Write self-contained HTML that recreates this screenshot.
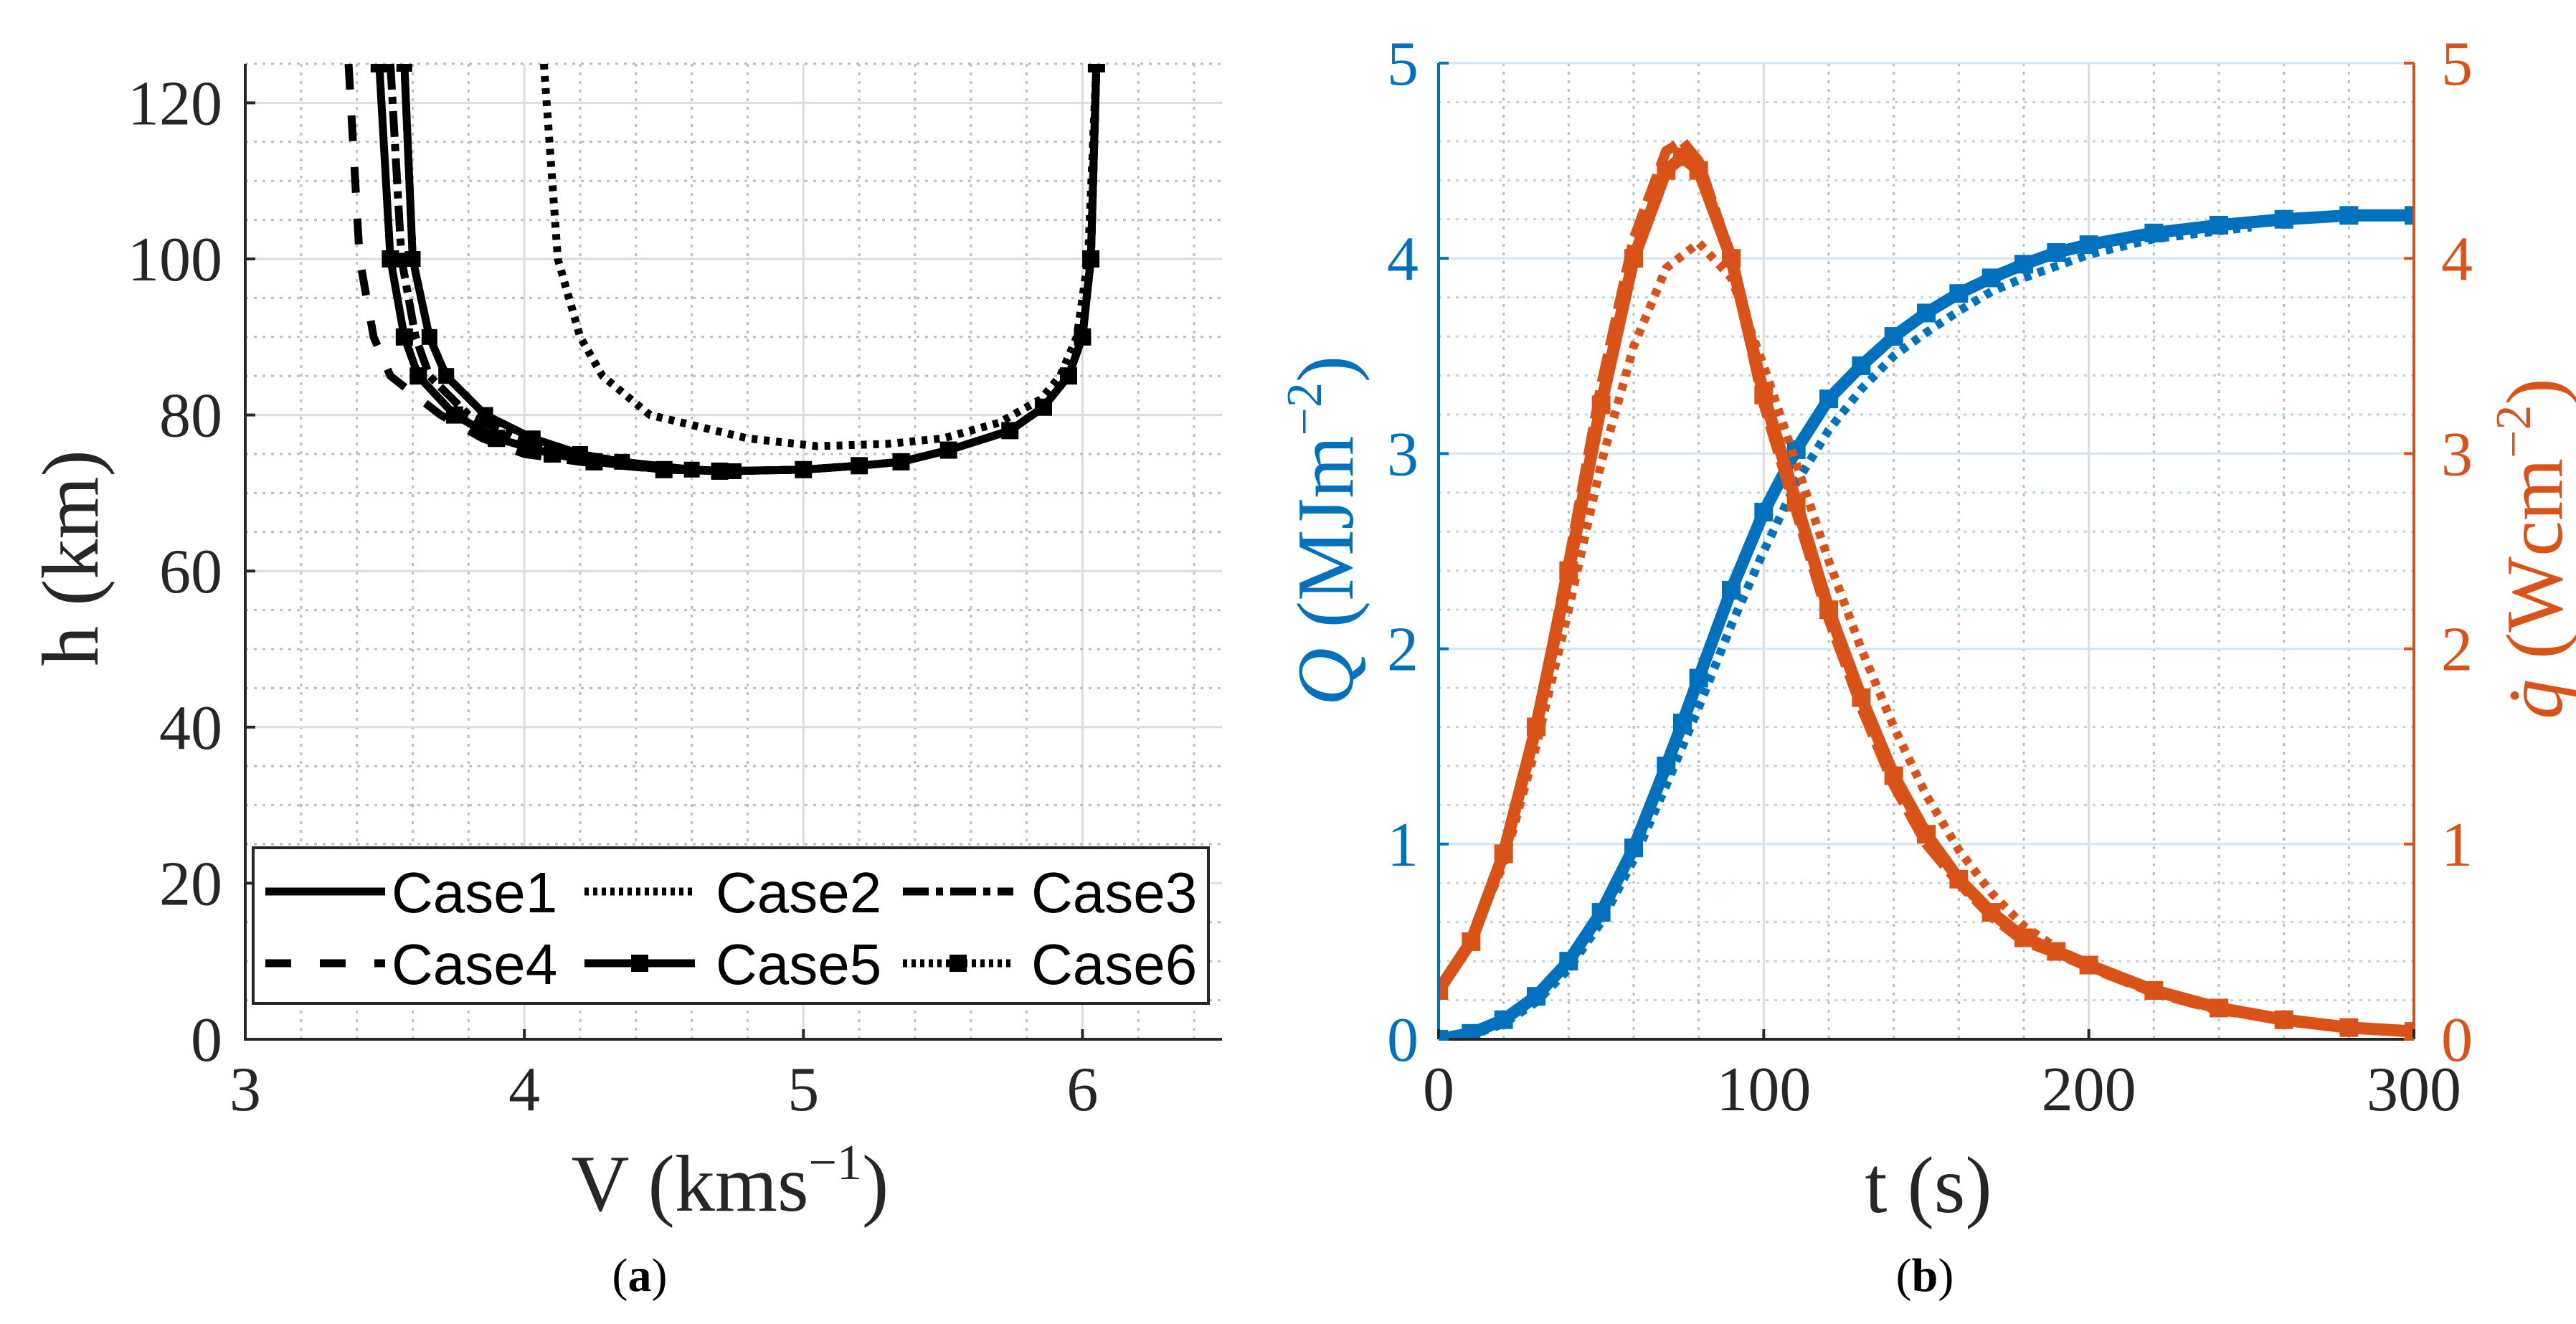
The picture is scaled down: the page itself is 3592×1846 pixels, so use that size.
<!DOCTYPE html>
<html><head><meta charset="utf-8"><style>
html,body{margin:0;padding:0;background:#fff}
svg{display:block}
.tk{font-family:"Liberation Serif",serif;font-size:88px}
.lab{font-family:"Liberation Serif",serif;font-size:112px}
.leg{font-family:"Liberation Sans",sans-serif;font-size:80px}
</style></head><body>
<svg id="fig" width="3592" height="1846" viewBox="0 0 3592 1846" xmlns="http://www.w3.org/2000/svg">
<defs>
<clipPath id="clipA"><rect x="342" y="89" width="1362" height="1360"/></clipPath>
<clipPath id="clipB"><rect x="2006" y="88" width="1360" height="1361"/></clipPath>
</defs>
<g id="gridA"></g>
<g id="gridB"></g>
<g id="seriesA" clip-path="url(#clipA)"></g>
<g id="seriesB" clip-path="url(#clipB)"></g>
<g id="axesA"></g>
<g id="axesB"></g>

<rect x="353" y="1182" width="1332" height="217" fill="#fff" stroke="#262626" stroke-width="4"/>
<g><line x1="370" y1="1243" x2="537" y2="1243" stroke="#000" stroke-width="11"/><text class="leg" x="546" y="1272">Case1</text></g>
<g><line x1="815" y1="1243" x2="969" y2="1243" stroke="#000" stroke-width="11" stroke-dasharray="6 6"/><text class="leg" x="998" y="1272">Case2</text></g>
<g><line x1="1259" y1="1243" x2="1413" y2="1243" stroke="#000" stroke-width="11" stroke-dasharray="36 10 10 10"/><text class="leg" x="1438" y="1272">Case3</text></g>
<g><line x1="370" y1="1343" x2="537" y2="1343" stroke="#000" stroke-width="11" stroke-dasharray="36 40"/><text class="leg" x="546" y="1372">Case4</text></g>
<g><line x1="815" y1="1343" x2="969" y2="1343" stroke="#000" stroke-width="11"/><rect x="880" y="1331" width="24" height="24" fill="#000"/><text class="leg" x="998" y="1372">Case5</text></g>
<g><line x1="1259" y1="1343" x2="1413" y2="1343" stroke="#000" stroke-width="11" stroke-dasharray="6 6"/><rect x="1324" y="1331" width="24" height="24" fill="#000"/><text class="leg" x="1438" y="1372">Case6</text></g>

<text class="lab" x="100" y="778" text-anchor="middle" transform="rotate(-90 100 778)" dy="36" fill="#262626">h (km)</text>
<text class="lab" x="1018" y="1688" text-anchor="middle" fill="#262626">V (kms<tspan dy="-44" font-size="70">−1</tspan><tspan dy="44">)</tspan></text>
<text x="892" y="1800" text-anchor="middle" font-family="Liberation Serif,serif" font-size="66">(<tspan font-weight="bold">a</tspan>)</text>

<text class="lab" x="1850" y="740" text-anchor="middle" transform="rotate(-90 1850 740)" dy="36" fill="#0072BD"><tspan font-style="italic">Q</tspan> (MJm<tspan dy="-44" font-size="70">−2</tspan><tspan dy="44">)</tspan></text>
<text class="lab" x="3536" y="765" text-anchor="middle" transform="rotate(-90 3536 765)" dy="36" fill="#D95319"><tspan font-style="italic">q̇</tspan> (Wcm<tspan dy="-44" font-size="70">−2</tspan><tspan dy="44">)</tspan></text>
<text class="lab" x="2689" y="1690" text-anchor="middle" fill="#262626">t (s)</text>
<text x="2684" y="1800" text-anchor="middle" font-family="Liberation Serif,serif" font-size="66">(<tspan font-weight="bold">b</tspan>)</text>
</svg>
<script>
// ---- Chart A data (h vs V) ----
const hLevels = [125,100,90,85,80,77,75,74,73,72.8,73,73.5,74,75.5,78,81,85,90,100,125];
const vCase1 = [3.57,3.60,3.66,3.72,3.86,4.03,4.2,4.35,4.6,4.75,5.0,5.2,5.35,5.52,5.74,5.86,5.95,6.0,6.03,6.05];
const vCase3 = [3.52,3.56,3.61,3.66,3.80,3.97,4.15,4.3,4.55,4.72,5.0,5.2,5.35,5.52,5.74,5.86,5.95,6.0,6.03,6.05];
const vCase4 = [3.37,3.41,3.46,3.52,3.70,3.85,4.0,4.2,4.5,4.7,5.0,5.2,5.35,5.52,5.74,5.86,5.95,6.0,6.03,6.05];
const vCase5 = [3.48,3.52,3.57,3.62,3.75,3.90,4.1,4.25,4.5,4.7,5.0,5.2,5.35,5.52,5.74,5.86,5.95,6.0,6.03,6.05];
const vCase6 = [3.57,3.60,3.66,3.72,3.86,4.03,4.2,4.35,4.6,4.75,5.0,5.2,5.35,5.52,5.74,5.86,5.95,6.0,6.03,6.05];
const hCase2 = [125,100,90,85,80,77,76,76.3,77,79,82,85,90,100,125];
const vCase2 = [4.07,4.12,4.2,4.28,4.45,4.8,5.05,5.3,5.5,5.7,5.85,5.92,5.98,6.02,6.05];
const vTicks = [3,4,5,6];
const hTicks = [0,20,40,60,80,100,120];
// ---- Chart B data ----
const tSolid = [0,10,20,30,40,50,60,70,75,80,90,100,110,120,130,140,150,160,170,180,190,200,220,240,260,280,300];
const qSolid = [0,0.03,0.1,0.22,0.4,0.65,0.98,1.4,1.62,1.85,2.3,2.7,3.02,3.28,3.45,3.6,3.72,3.82,3.9,3.97,4.03,4.07,4.13,4.17,4.2,4.22,4.22];
const qdSolid = [0.25,0.5,0.95,1.6,2.4,3.25,4.0,4.45,4.52,4.45,4.0,3.3,2.75,2.2,1.75,1.35,1.05,0.82,0.65,0.52,0.45,0.38,0.25,0.16,0.1,0.06,0.04];
const qdDash = [0.25,0.5,0.95,1.6,2.45,3.35,4.1,4.55,4.6,4.5,4.0,3.25,2.7,2.15,1.7,1.3,1.0,0.8,0.63,0.5,0.44,0.37,0.24,0.15,0.1,0.06,0.04];
const tDot = [0,10,20,30,40,50,60,70,80,90,100,110,120,130,140,150,160,170,180,190,200,220,250];
const qDot = [0,0.02,0.08,0.19,0.36,0.6,0.92,1.3,1.7,2.12,2.5,2.85,3.12,3.33,3.5,3.62,3.73,3.83,3.9,3.96,4.02,4.1,4.16];
const qdDot = [0.25,0.5,0.9,1.5,2.2,2.95,3.55,3.95,4.08,3.9,3.45,2.95,2.45,2.0,1.6,1.25,0.97,0.75,0.58,0.47,0.38,0.25,0.13];
const tTicks = [0,100,200,300];
const yTicksB = [0,1,2,3,4,5];

const NS='http://www.w3.org/2000/svg';
function mk(parent,tag,attrs){const e=document.createElementNS(NS,tag);for(const k in attrs)e.setAttribute(k,attrs[k]);parent.appendChild(e);return e;}
const xA=v=>342+(v-3)*(1704-342)/3.5, yA=h=>1449-h*(1449-89)/125;
const xB=t=>2006+t*(3366-2006)/300, yB=q=>1449-q*(1449-88)/5;

const gA=document.getElementById('gridA'), gB=document.getElementById('gridB');
for(let i=0;i<=35;i+=2){const v=3+i*0.1; const major=(i%10===0);
 const l=mk(gA,'line',{x1:xA(v),x2:xA(v),y1:89,y2:1449,stroke:major?'#dcdcdc':'#bdbdbd','stroke-width':3,'stroke-dasharray':major?'none':'4 8'});
  }
for(let h=0;h<=125;h+=5){const major=(h%20===0);
 const l=mk(gA,'line',{x1:342,x2:1704,y1:yA(h),y2:yA(h),stroke:major?'#dcdcdc':'#bdbdbd','stroke-width':3,'stroke-dasharray':major?'none':'4 8'});
  }
for(let t=0;t<=300;t+=20){const major=(t%100===0);
 const l=mk(gB,'line',{x1:xB(t),x2:xB(t),y1:88,y2:1449,stroke:major?'#dcdcdc':'#bdbdbd','stroke-width':3,'stroke-dasharray':major?'none':'4 8'});
  }
for(let k=0;k<=25;k++){const q=k*0.2;const major=(k%5===0);
 const l=mk(gB,'line',{x1:2006,x2:3366,y1:yB(q),y2:yB(q),stroke:major?'#d3e5f2':'#b9d6ec','stroke-width':3,'stroke-dasharray':major?'none':'4 8'});
  }

function series(g,xs,ys,fx,fy,color,width,dash,markers,name){
 const d=xs.map((x,i)=>(i?'L':'M')+fx(x).toFixed(1)+' '+fy(ys[i]).toFixed(1)).join(' ');
 const p=mk(g,'path',{d:d,fill:'none',stroke:color,'stroke-width':width,'stroke-linejoin':'round','stroke-dasharray':dash||'none'});
 
 
 if(markers){xs.forEach((x,i)=>{const r=mk(g,'rect',{x:fx(x)-markers/2,y:fy(ys[i])-markers/2,width:markers,height:markers,fill:color});
  
  });}
}
const sA=document.getElementById('seriesA');
series(sA,vCase4,hLevels,xA,yA,'#000',11,'36 36',0,'case4-line');
series(sA,vCase2,hCase2,xA,yA,'#000',11,'8 9',0,'case2-line');
series(sA,vCase6,hLevels,xA,yA,'#000',11,'8 9',22,'case6-line');
series(sA,vCase3,hLevels,xA,yA,'#000',11,'36 10 10 10',0,'case3-line');
series(sA,vCase1,hLevels,xA,yA,'#000',11,null,0,'case1-line');
series(sA,vCase5,hLevels,xA,yA,'#000',11,null,24,'case5-line');

const sB=document.getElementById('seriesB');
series(sB,tDot,qDot,xB,yB,'#0072BD',12,'10 10',0,'q-dotted-line');
series(sB,tSolid,qSolid,xB,yB,'#0072BD',17,null,26,'q-solid-line');
series(sB,tDot,qdDot,xB,yB,'#D95319',12,'10 10',0,'qdot-dotted-line');
series(sB,tSolid,qdDash,xB,yB,'#D95319',14,'40 12',0,'qdot-dashed-line');
series(sB,tSolid,qdSolid,xB,yB,'#D95319',17,null,26,'qdot-solid-line');

const aA=document.getElementById('axesA');
let e=mk(aA,'path',{d:'M342 89 L342 1449 L1704 1449',fill:'none',stroke:'#262626','stroke-width':4});
 
vTicks.forEach(v=>{mk(aA,'line',{x1:xA(v),x2:xA(v),y1:1449,y2:1435,stroke:'#262626','stroke-width':4});
 const t=mk(aA,'text',{x:xA(v),y:1548,'text-anchor':'middle',class:'tk',fill:'#262626'});t.textContent=v;
  });
hTicks.forEach(h=>{mk(aA,'line',{x1:342,x2:356,y1:yA(h),y2:yA(h),stroke:'#262626','stroke-width':4});
 const t=mk(aA,'text',{x:310,y:yA(h)+30,'text-anchor':'end',class:'tk',fill:'#262626'});t.textContent=h;
  });
const aB=document.getElementById('axesB');
e=mk(aB,'line',{x1:2006,x2:3366,y1:1449,y2:1449,stroke:'#262626','stroke-width':4});
 
e=mk(aB,'line',{x1:2006,x2:2006,y1:88,y2:1449,stroke:'#0072BD','stroke-width':4});
 
e=mk(aB,'line',{x1:3366,x2:3366,y1:88,y2:1449,stroke:'#D95319','stroke-width':4});
 
tTicks.forEach(v=>{mk(aB,'line',{x1:xB(v),x2:xB(v),y1:1449,y2:1435,stroke:'#262626','stroke-width':4});
 const t=mk(aB,'text',{x:xB(v),y:1548,'text-anchor':'middle',class:'tk',fill:'#262626'});t.textContent=v;
  });
yTicksB.forEach(q=>{mk(aB,'line',{x1:2006,x2:2020,y1:yB(q),y2:yB(q),stroke:'#0072BD','stroke-width':4});
 mk(aB,'line',{x1:3352,x2:3366,y1:yB(q),y2:yB(q),stroke:'#D95319','stroke-width':4});
 let t=mk(aB,'text',{x:1978,y:yB(q)+30,'text-anchor':'end',class:'tk',fill:'#0072BD'});t.textContent=q;
  
 t=mk(aB,'text',{x:3404,y:yB(q)+30,'text-anchor':'start',class:'tk',fill:'#D95319'});t.textContent=q;
  });
</script>
</body></html>
